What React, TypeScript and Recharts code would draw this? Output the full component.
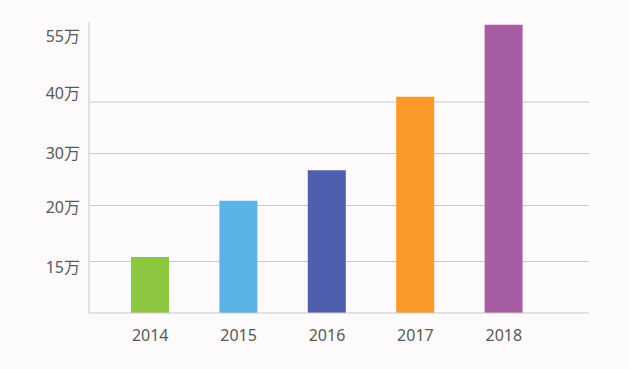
import { BarChart, Bar, XAxis, YAxis, CartesianGrid, Cell } from "recharts";

const YEARS = ["2014", "2015", "2016", "2017", "2018"];
/** Values in 万. */
const SALES_WAN = [15.4, 20.9, 26.8, 41.2, 57.8];
const TICK_WAN = [15, 20, 30, 40, 55];
const GRID_WAN = [15, 20, 30, 40];
const BAR_COLORS = ["#8dc63f", "#5ab3e4", "#4f5fad", "#fa9a2b", "#a55ea4"];

// The source axis is not linear: each labelled stop sits on its own row.
const SCALE_WAN = [0, 15, 20, 30, 40, 55];
const SCALE_ROWS = [0, 1, 2.087, 3.097, 4.097, 5.36];

function toRows(v: number) {
  let i = 1;
  while (i < SCALE_WAN.length - 1 && v > SCALE_WAN[i]) i++;
  const w0 = SCALE_WAN[i - 1], w1 = SCALE_WAN[i];
  const r0 = SCALE_ROWS[i - 1], r1 = SCALE_ROWS[i];
  return r0 + ((v - w0) / (w1 - w0)) * (r1 - r0);
}

const data = YEARS.map((year, i) => ({ year, wan: SALES_WAN[i], rows: toRows(SALES_WAN[i]) }));

const FONT = "'Noto Sans', 'Noto Sans CJK SC', sans-serif";
const TEXT = "#595959";
const LINE = "#c9c9c9";

// label nudges so the text sits where the original put it
const LABEL_NUDGE: Record<number, number> = { 15: 6, 20: 1, 30: 0, 40: -9, 55: -1 };

function YTick(props: any) {
  const { x, y, index } = props;
  const v = TICK_WAN[index];
  return (
    <text
      x={x}
      y={y + (LABEL_NUDGE[v] ?? 0)}
      textAnchor="end"
      dominantBaseline="central"
      fill={TEXT}
      fontSize={16}
      fontFamily={FONT}
    >
      {`${v}万`}
    </text>
  );
}

export default function App() {
  return (
    <div style={{ position: "fixed", left: 0, top: 0, width: 629, height: 369, background: "#fcfafa" }}>
      <BarChart width={629} height={369} data={data} margin={{ top: 22, right: 40, left: 0, bottom: 26 }}>
        <CartesianGrid
          vertical={false}
          stroke={LINE}
          horizontalValues={GRID_WAN.map(toRows)}
        />
        <XAxis
          dataKey="year"
          height={30}
          padding={{ left: 17, right: 41 }}
          axisLine={{ stroke: LINE }}
          tickLine={false}
          tickMargin={11}
          tick={{ fill: TEXT, fontSize: 16, fontFamily: FONT }}
        />
        <YAxis
          type="number"
          width={89}
          domain={[0, 5.65]}
          ticks={TICK_WAN.map(toRows)}
          interval={0}
          axisLine={{ stroke: LINE }}
          tickLine={false}
          tickMargin={3}
          tick={<YTick />}
        />
        <Bar dataKey="rows" barSize={38} isAnimationActive={false}>
          {data.map((_d, i) => (
            <Cell key={`cell-${i}`} fill={BAR_COLORS[i]} />
          ))}
        </Bar>
      </BarChart>
    </div>
  );
}
